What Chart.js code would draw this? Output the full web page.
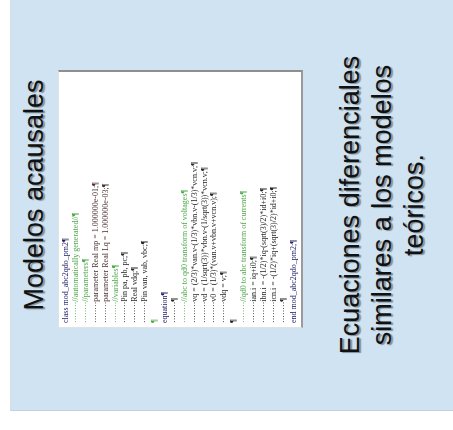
<!DOCTYPE html>
<html>
<head>
<meta charset="utf-8">
<script src="https://cdn.jsdelivr.net/npm/chart.js@4/dist/chart.umd.min.js"></script>
<style>
  html, body { margin: 0; padding: 0; background: #ffffff; width: 453px; height: 430px; overflow: hidden; }
  #slide { position: absolute; left: 10px; top: 0; width: 443px; height: 410px; background: #cfe3f2;
           border-left: 1px solid #d9dee3; border-bottom: 1px solid #c3d3de; }
  .rot { position: absolute; transform: translate(-50%, -50%) rotate(-90deg); white-space: nowrap;
         font-family: 'Liberation Sans', Arial, sans-serif; color: #111;
         text-shadow: -1px 2px 1px rgba(0,0,0,0.38); }
  #title { left: 34px; top: 195px; font-size: 27px; }
  #body { left: 382px; top: 205px; font-size: 27px; line-height: 32px; text-align: center; }
  #panel { position: absolute; left: 58px; top: 70px; width: 245px; height: 258px; background: #fff;
           border-top: 2px solid #8e8e8e; border-right: 2px solid #9a9a9a;
           border-left: 1px solid #e2e2e2; border-bottom: 1px solid #e2e2e2; box-sizing: border-box; }
  #c { position: absolute; left: 0; top: 0; }
</style>
</head>
<body>
<div id="slide"></div>
<div id="title" class="rot">Modelos acausales</div>
<div id="body" class="rot">Ecuaciones diferenciales<br>similares a los modelos<br>teóricos.</div>
<div id="panel"><canvas id="c" width="242" height="255"></canvas></div>
<script>
const TAB = '········';
// code lines shown in the (rotated) listing, one category per line
const codeLines = [
  'class mod_abc2qdo_pm2¶',
  TAB + '//automatically generated//¶',
  TAB + '//parameters¶',
  TAB + 'parameter Real mp = 1.000000e-01;¶',
  TAB + 'parameter Real Lq = 1.000000e-03;¶',
  TAB + '//variables¶',
  TAB + 'Pin pa, pb, pc;¶',
  TAB + 'Real vdq;¶',
  TAB + 'Pin van, vab, vbc;¶',
  '¶',
  'equation¶',
  TAB + '¶',
  TAB + '//abc to qd0 transform of voltages¶',
  TAB + 'vq = (2/3)*van.v-(1/3)*vbn.v-(1/3)*vcn.v;¶',
  TAB + 'vd = (1/sqrt(3))*vbn.v-(1/sqrt(3))*vcn.v;¶',
  TAB + 'v0 = (1/3)*(van.v+vbn.v+vcn.v);¶',
  TAB + 'vdq = v;¶',
  '¶',
  TAB + '//qd0 to abc transform of currents¶',
  TAB + 'ian.i = iq+i0;¶',
  TAB + 'ibn.i = -(1/2)*iq-(sqrt(3)/2)*id+i0;¶',
  TAB + 'icn.i = -(1/2)*iq+(sqrt(3)/2)*id+i0;¶',
  TAB + '¶',
  'end mod_abc2qdo_pm2;¶'
];
// kind of each line: c = comment, k = keyword, p = parameter, t = plain text
const lineKinds = ['k','c','c','p','p','c','t','t','t','c','k','t','c','t','t','t','t','t','c','t','t','t','t','k'];
const kindColors = { c: '#4fa84a', k: '#20206a', p: '#4a3030', t: '#262626' };
const lineValues = codeLines.map(() => 0);

new Chart(document.getElementById('c'), {
  type: 'bar',
  data: {
    labels: codeLines,
    datasets: [{ data: lineValues, backgroundColor: 'rgba(0,0,0,0)' }]
  },
  options: {
    responsive: false,
    animation: false,
    events: [],
    layout: { autoPadding: false, padding: { left: 1, right: 0, top: 0, bottom: 0 } },
    plugins: { legend: { display: false }, tooltip: { enabled: false } },
    scales: {
      x: {
        position: 'top',
        offset: true,
        border: { display: false },
        grid: { display: false, drawTicks: false },
        ticks: {
          autoSkip: false,
          minRotation: 90,
          maxRotation: 90,
          padding: 0,
          labelOffset: 7,
          font: { family: "'Liberation Serif', 'Times New Roman', serif", size: 8 },
          color: (ctx) => kindColors[lineKinds[ctx.index]]
        },
        afterFit: (scale) => { scale.height = 251; }
      },
      y: { display: false, min: 0, max: 1 }
    }
  }
});
</script>
</body>
</html>
